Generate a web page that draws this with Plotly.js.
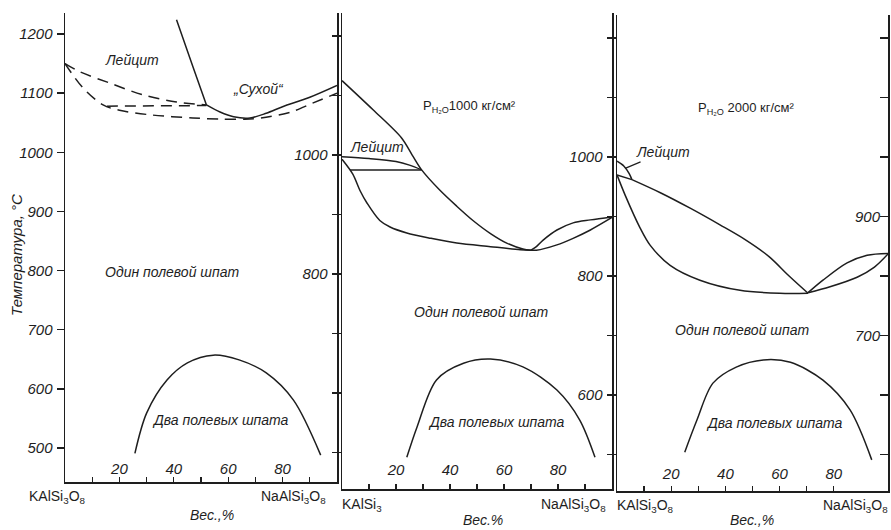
<!DOCTYPE html>
<html><head><meta charset="utf-8">
<script src="https://cdn.plot.ly/plotly-3.0.1.min.js"></script>
<style>html,body{margin:0;padding:0;background:#fff}#chart{width:891px;height:530px}</style>
</head><body><div id="chart"></div>
<script>
// ---- tick labels ----
const xTickVals = [10, 20, 30, 40, 50, 60, 70, 80, 90];
const xTickText = ['', '20', '', '40', '', '60', '', '80', ''];
const yTickVals = [500, 600, 700, 800, 900, 1000, 1100, 1200];
const p1YTickText = ['500', '600', '700', '800', '900', '1000', '1100', '1200'];
const p2YTickText = ['', '', '', '800', '', '1000', '', ''];
const p3YTickText = ['', '600', '', '800', '', '1000', '', ''];
const p3RightTickText = ['', '', '700', '', '900', '', '', ''];

// ---- panel 1: dry system ----
const p1LeucLiqX = [41, 44.5, 47, 52];
const p1LeucLiqT = [1224, 1180, 1145, 1080];
const p1LiqX = [52, 57, 62, 68, 74, 80, 90, 100];
const p1LiqT = [1080, 1068, 1060, 1058, 1066, 1077, 1093, 1113];
const p1UpperDashX = [0, 5.5, 16.5, 28.7, 41, 52];
const p1UpperDashT = [1150, 1136, 1117, 1097, 1085, 1080];
const p1LowerDashX = [0, 6.6, 14, 20, 32, 47, 57, 66, 72, 83, 91, 100];
const p1LowerDashT = [1150, 1109, 1080, 1071, 1063, 1058, 1056, 1056, 1058, 1068, 1083, 1100];
const p1FlatDashX = [15.4, 52];
const p1FlatDashT = [1078, 1079];
const p1SolvusX = [25.7, 30, 37.5, 45, 54.5, 64, 74, 84, 94];
const p1SolvusT = [491, 559, 615, 644, 657, 649, 627, 581, 488];

// ---- panel 2: P(H2O) = 1000 kg/cm2 ----
const p2LiqX = [0, 11.5, 22, 26, 29.5, 36, 42.5, 48.5, 55, 61, 67, 70];
const p2LiqT = [1125, 1076, 1029, 1000, 975, 942, 914, 890, 868, 852, 842, 840];
const p2SolX = [0, 4, 6.7, 9.3, 14, 17.8, 24, 33, 42.5, 55, 66, 70];
const p2SolT = [993, 968, 940, 919, 890, 879, 869, 860, 852, 846, 841, 840];
const p2LeucUpX = [0, 10, 20, 25, 29.5];
const p2LeucUpT = [997, 994, 989, 983, 975];
const p2LeucLowX = [3, 29.5];
const p2LeucLowT = [975, 975];
const p2RightUpX = [70, 72, 74.5, 79.6, 85.6, 92, 100];
const p2RightUpT = [840, 846, 857, 874, 886, 891, 896];
const p2RightLowX = [70, 72, 79.6, 85.6, 92, 100];
const p2RightLowT = [840, 840, 849, 860, 874, 895];
const p2SolvusX = [24, 27.8, 35, 45, 55, 67, 79.6, 88, 93.7];
const p2SolvusT = [492, 543, 622, 650, 657, 644, 605, 555, 492];

// ---- panel 3: P(H2O) = 2000 kg/cm2 ----
const p3LeucUpX = [0, 2.5, 4.5, 5.5];
const p3LeucUpT = [993, 985, 972, 962];
const p3LeucLowX = [0, 5.5];
const p3LeucLowT = [970, 962];
const p3LiqX = [5.5, 16, 27, 38, 47, 56, 63.5, 70.5];
const p3LiqT = [962, 940, 914, 886, 862, 833, 800, 771];
const p3SolX = [0, 3, 8.5, 12.2, 19.6, 30.6, 45.4, 60.1, 70.5];
const p3SolT = [970, 936, 881, 852, 818, 793, 776, 771, 771];
const p3RightUpX = [70.5, 76, 84.9, 92.3, 100];
const p3RightUpT = [772, 793, 822, 835, 838];
const p3RightLowX = [70.5, 78.6, 88.6, 95, 100];
const p3RightLowT = [772, 782, 798, 815, 837];
const p3SolvusX = [25, 29.5, 35.4, 44, 54, 64, 76, 86, 94];
const p3SolvusT = [504, 558, 620, 647, 659, 655, 625, 575, 491];

const INK = '#1e1e1e';
const FONT = 'Liberation Sans, Arial, sans-serif';
const W = 891, H = 530;
const ital = arr => arr.map(s => s ? '<i>' + s + '</i>' : '');

function line(x, y, xa, ya, opts) {
  opts = opts || {};
  return {
    type: 'scatter', mode: 'lines', x: x, y: y, xaxis: xa, yaxis: ya,
    hoverinfo: 'skip', showlegend: false,
    line: { color: INK, width: opts.width || 1.5, shape: opts.linear ? 'linear' : 'spline',
            smoothing: 0.9, dash: opts.dash || 'solid' }
  };
}
const DASH = '11px,7px';

const traces = [
  line(p1LeucLiqX, p1LeucLiqT, 'x', 'y', { linear: true }),
  line(p1LiqX, p1LiqT, 'x', 'y'),
  line(p1UpperDashX, p1UpperDashT, 'x', 'y', { dash: DASH }),
  line(p1LowerDashX, p1LowerDashT, 'x', 'y', { dash: DASH }),
  line(p1FlatDashX, p1FlatDashT, 'x', 'y', { dash: DASH, linear: true }),
  line(p1SolvusX, p1SolvusT, 'x', 'y'),

  line(p2LiqX, p2LiqT, 'x2', 'y2'),
  line(p2SolX, p2SolT, 'x2', 'y2'),
  line(p2LeucUpX, p2LeucUpT, 'x2', 'y2'),
  line(p2LeucLowX, p2LeucLowT, 'x2', 'y2', { linear: true }),
  line(p2RightUpX, p2RightUpT, 'x2', 'y2'),
  line(p2RightLowX, p2RightLowT, 'x2', 'y2'),
  line(p2SolvusX, p2SolvusT, 'x2', 'y2'),

  line(p3LeucUpX, p3LeucUpT, 'x3', 'y3'),
  line(p3LeucLowX, p3LeucLowT, 'x3', 'y3', { linear: true }),
  line(p3LiqX, p3LiqT, 'x3', 'y3'),
  line(p3SolX, p3SolT, 'x3', 'y3'),
  line(p3RightUpX, p3RightUpT, 'x3', 'y3'),
  line(p3RightLowX, p3RightLowT, 'x3', 'y3'),
  line(p3SolvusX, p3SolvusT, 'x3', 'y3'),
  { type: 'scatter', mode: 'lines', x: [], y: [], xaxis: 'x3', yaxis: 'y4', showlegend: false }
];

const tickFont = { family: FONT, size: 15, color: INK };
function xAxis(domain, anchor, standoff) {
  return {
    domain: domain, anchor: anchor, range: [0, 100], fixedrange: true,
    showline: true, linecolor: INK, linewidth: 1.5, mirror: false,
    ticks: 'inside', ticklen: 5, tickwidth: 1.3, tickcolor: INK,
    tickvals: xTickVals, ticktext: ital(xTickText), ticklabelposition: 'inside',
    ticklabelstandoff: standoff, automargin: false,
    tickfont: tickFont, showgrid: false, zeroline: false
  };
}
function yAxis(domain, anchor, range, text, mirror, len) {
  return {
    domain: domain, anchor: anchor, range: range, fixedrange: true,
    showline: true, linecolor: INK, linewidth: 1.5, mirror: mirror,
    ticks: 'outside', ticklen: len, tickwidth: 1.3, tickcolor: INK,
    tickvals: yTickVals, ticktext: ital(text), ticklabelstandoff: 1, automargin: false,
    tickfont: tickFont, showgrid: false, zeroline: false
  };
}
const r1 = [442.5, 1235.5];
const r23 = [438.7, 1238.7];

const ann = [];
function txt(t, x, y, xr, yr, size, italic, extra) {
  const a = Object.assign({
    text: italic ? '<i>' + t + '</i>' : t, x: x, y: y, xref: xr, yref: yr, showarrow: false,
    xanchor: 'center', yanchor: 'middle',
    font: { family: FONT, size: size, color: INK }
  }, extra || {});
  ann.push(a);
}
// panel 1 labels
txt('Лейцит', 24.6, 1156, 'x', 'y', 14, true);
txt('„Сухой“', 71, 1107, 'x', 'y', 14, true);
txt('Один полевой шпат', 39.3, 798, 'x', 'y', 14, true);
txt('Два полевых шпата', 57, 547, 'x', 'y', 14, true);
// panel 2 labels
txt('P<sub>H₂O</sub>1000 кг/см²', 47.4, 1081, 'x2', 'y2', 13, false);
txt('Лейцит', 13, 1013, 'x2', 'y2', 14, true);
txt('Один полевой шпат', 51.5, 736, 'x2', 'y2', 14, true);
txt('Два полевых шпата', 57.4, 551, 'x2', 'y2', 14, true);
// panel 3 labels
txt('P<sub>H₂O</sub> 2000 кг/см²', 47.6, 1082, 'x3', 'y3', 13, false);
txt('Лейцит', 3, 981, 'x3', 'y3', 14, true,
    { showarrow: true, arrowhead: 0, arrowwidth: 1.2, arrowcolor: INK, ax: 38, ay: -16 });
txt('Один полевой шпат', 46, 709, 'x3', 'y3', 14, true);
txt('Два полевых шпата', 58, 553, 'x3', 'y3', 14, true);
// bottom composition labels
txt('KAlSi<sub>3</sub>O<sub>8</sub>', 57 / W, 1 - 497 / H, 'paper', 'paper', 14, false);
txt('NaAlSi<sub>3</sub>O<sub>8</sub>', 293 / W, 1 - 497 / H, 'paper', 'paper', 14, false);
txt('Вес.,%', 212 / W, 1 - 515 / H, 'paper', 'paper', 14, true);
txt('KAlSi<sub>3</sub>', 362 / W, 1 - 505 / H, 'paper', 'paper', 14, false);
txt('NaAlSi<sub>3</sub>O<sub>8</sub>', 573 / W, 1 - 505 / H, 'paper', 'paper', 14, false);
txt('Вес.%', 483 / W, 1 - 520 / H, 'paper', 'paper', 14, true);
txt('KAlSi<sub>3</sub>O<sub>8</sub>', 645 / W, 1 - 506 / H, 'paper', 'paper', 14, false);
txt('NaAlSi<sub>3</sub>O<sub>8</sub>', 855 / W, 1 - 506 / H, 'paper', 'paper', 14, false);
txt('Вес.,%', 752 / W, 1 - 520 / H, 'paper', 'paper', 14, true);
// y axis title
txt('Температура, °C', 16 / W, 1 - 255 / H, 'paper', 'paper', 15, true, { textangle: -90 });

const layout = {
  width: W, height: H, autosize: false,
  margin: { l: 0, r: 0, t: 0, b: 0, pad: 0 },
  paper_bgcolor: '#fff', plot_bgcolor: 'rgba(0,0,0,0)',
  showlegend: false,
  font: { family: FONT, color: INK },
  xaxis: xAxis([65 / W, 337 / W], 'y', 0),
  yaxis: yAxis([1 - 482 / H, 1 - 13 / H], 'x', r1, p1YTickText, true, 7),
  xaxis2: xAxis([342 / W, 612 / W], 'y2', 6),
  yaxis2: yAxis([1 - 489 / H, 1 - 13 / H], 'x2', r23, p2YTickText, true, 9),
  xaxis3: xAxis([617 / W, 888 / W], 'y3', 4),
  yaxis3: yAxis([1 - 491 / H, 1 - 15 / H], 'x3', r23, p3YTickText, false, 9),
  yaxis4: {
    overlaying: 'y3', side: 'right', anchor: 'x3', range: r23, fixedrange: true,
    showline: true, linecolor: INK, linewidth: 1.5, automargin: false,
    ticks: 'inside', ticklen: 8, tickwidth: 1.3, tickcolor: INK,
    tickvals: yTickVals, ticktext: ital(p3RightTickText), ticklabelposition: 'inside',
    ticklabelstandoff: 0,
    tickfont: tickFont, showgrid: false, zeroline: false
  },
  annotations: ann
};

Plotly.newPlot('chart', traces, layout, { staticPlot: true, displayModeBar: false });
</script></body></html>
